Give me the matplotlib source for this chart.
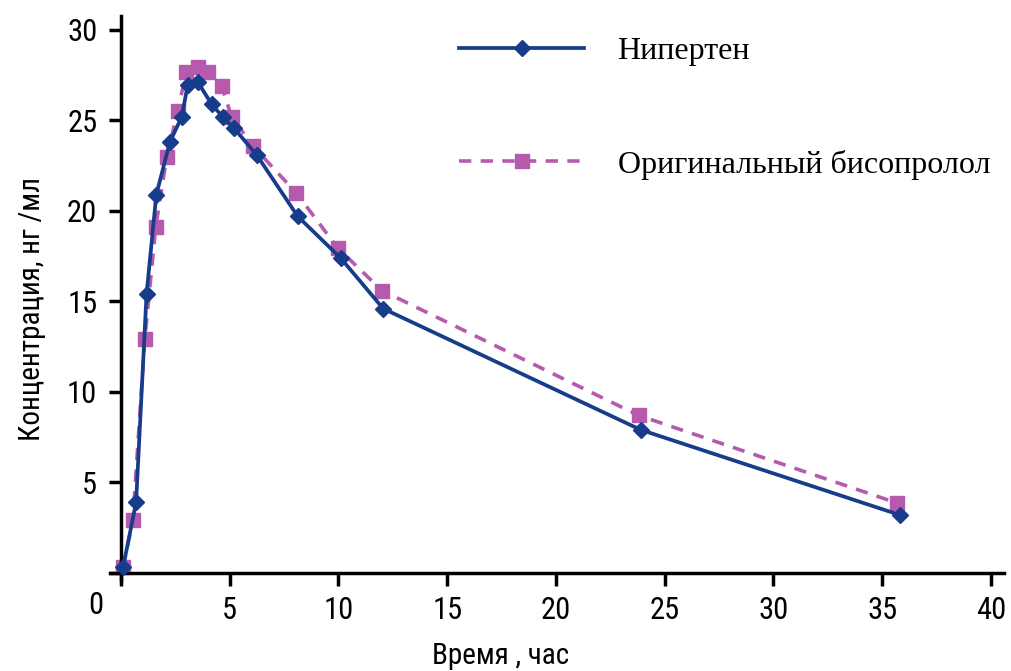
import matplotlib
matplotlib.use("Agg")
import matplotlib.pyplot as plt

# время, час
t_nip = [0.1, 0.7, 1.18, 1.63, 2.25, 2.8, 3.07, 3.55, 4.17, 4.68, 5.18, 6.24, 8.13, 10.1, 12.06, 23.9, 35.8]
c_nip = [0.3, 3.9, 15.4, 20.9, 23.8, 25.2, 26.95, 27.1, 25.9, 25.2, 24.6, 23.1, 19.7, 17.4, 14.6, 7.9, 3.2]

t_orig = [0.1, 0.55, 1.1, 1.6, 2.11, 2.61, 3.01, 3.53, 3.99, 4.63, 5.09, 6.06, 8.06, 9.97, 12.0, 23.8, 35.7]
c_orig = [0.3, 2.9, 12.9, 19.1, 23.0, 25.5, 27.7, 27.95, 27.7, 26.9, 25.2, 23.6, 21.0, 17.95, 15.6, 8.7, 3.85]

labels = ["Нипертен", "Оригинальный бисопролол"]
blue = "#173C8C"
pink = "#B65AAE"
sans = ["Roboto Condensed", "Liberation Sans Narrow", "Open Sans", "DejaVu Sans"]
serif = ["Liberation Serif", "DejaVu Serif"]

fig = plt.figure(figsize=(10.12, 6.71), dpi=100)
ax = fig.add_axes([0.1087, 0.1356, 0.8834, 0.8413])

ax.plot(t_orig, c_orig, color=pink, lw=2.6, ls=(0, (3.4, 2.6)), marker="s", ms=10,
        label=labels[1], zorder=2)
ax.plot(t_nip, c_nip, color=blue, lw=2.7, marker="D", ms=8,
        label=labels[0], zorder=3)

ax.set_xlim(-0.5, 40.6)
ax.set_ylim(-0.4, 30.8)
for s in ["top", "right"]:
    ax.spines[s].set_visible(False)
ax.spines["left"].set_position(("data", 0))
ax.spines["bottom"].set_position(("data", 0))
ax.spines["left"].set_linewidth(2.5)
ax.spines["bottom"].set_linewidth(2.5)

ax.set_xticks(range(0, 41, 5))
ax.set_xticklabels([""] + [str(v) for v in range(5, 41, 5)])
ax.set_yticks(range(0, 31, 5))
ax.set_yticklabels([""] + [str(v) for v in range(5, 31, 5)])
ax.tick_params(direction="out", length=9, width=2.5, pad=8, labelsize=22)
for lab in ax.get_xticklabels() + ax.get_yticklabels():
    lab.set_family(sans)
ax.text(-0.8, -1.0, "0", ha="right", va="top", fontsize=22, family=sans)

ax.set_xlabel("Время , час", fontsize=21, family=sans)
ax.set_ylabel("Концентрация, нг /мл", fontsize=21, family=sans)
ax.xaxis.set_label_coords(0.437, -0.11)
ax.yaxis.set_label_coords(-0.072, 0.48)

h, l = ax.get_legend_handles_labels()
ax.legend(h[::-1], l[::-1], loc="upper left", bbox_to_anchor=(0.373, 0.99),
          frameon=False, borderpad=0, handlelength=3.9, handletextpad=1.05,
          labelspacing=2.6, prop={"family": serif, "size": 23})

fig.savefig("out.png", dpi=100)
